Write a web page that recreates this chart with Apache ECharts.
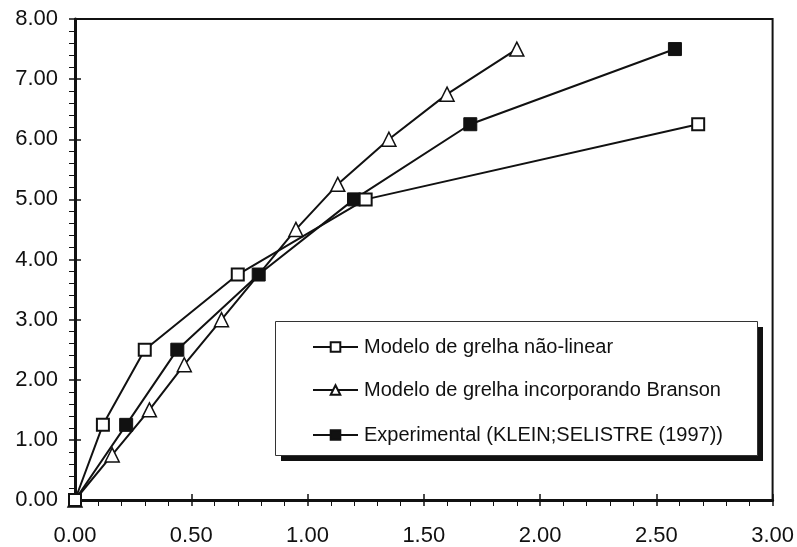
<!DOCTYPE html>
<html>
<head>
<meta charset="utf-8">
<script src="https://cdn.jsdelivr.net/npm/echarts@6/dist/echarts.min.js"></script>
<style>
  html, body { margin: 0; padding: 0; background: #fff; }
  #chart { width: 797px; height: 547px; }
</style>
</head>
<body>
<div id="chart"></div>
<script>
// Load–deflection points for the three grillage results
const seriesNames = [
  'Modelo de grelha não-linear',
  'Modelo de grelha incorporando Branson',
  'Experimental (KLEIN;SELISTRE (1997))'
];
const naoLinearX = [0, 0.12, 0.30, 0.70, 1.25, 2.68];
const naoLinearY = [0, 1.25, 2.50, 3.75, 5.00, 6.25];
const bransonX = [0, 0.16, 0.32, 0.47, 0.63, 0.95, 1.13, 1.35, 1.60, 1.90];
const bransonY = [0, 0.75, 1.50, 2.25, 3.00, 4.50, 5.25, 6.00, 6.75, 7.50];
const experimentalX = [0, 0.22, 0.44, 0.79, 1.20, 1.70, 2.58];
const experimentalY = [0, 1.25, 2.50, 3.75, 5.00, 6.25, 7.50];

const xTicks = { min: 0, max: 3, interval: 0.5 };
const yTicks = { min: 0, max: 8, interval: 1 };

const pairs = (xs, ys) => xs.map((x, i) => [x, ys[i]]);

const FONT = 'Arial, "Liberation Sans", sans-serif';
const INK = '#111';

const chart = echarts.init(document.getElementById('chart'));

const tickLabel = {
  color: INK, fontSize: 22, fontFamily: FONT,
  formatter: v => v.toFixed(2)
};

const mainX = {
  type: 'value', min: xTicks.min, max: xTicks.max, interval: xTicks.interval,
  axisLine: { show: true, onZero: false, lineStyle: { color: INK, width: 3 } },
  axisTick: { show: true, inside: false, length: 6, lineStyle: { color: INK, width: 1.5 } },
  minorTick: { show: true, splitNumber: 5, length: 6, lineStyle: { color: INK, width: 1 } },
  splitLine: { show: false },
  axisLabel: Object.assign({ margin: 25 }, tickLabel)
};
const innerX = {
  type: 'value', min: xTicks.min, max: xTicks.max, interval: xTicks.interval,
  position: 'bottom',
  axisLine: { show: false },
  axisTick: { show: true, inside: true, length: 6, lineStyle: { color: INK, width: 1.5 } },
  axisLabel: { show: false }, splitLine: { show: false }
};
const mainY = {
  type: 'value', min: yTicks.min, max: yTicks.max, interval: yTicks.interval,
  axisLine: { show: true, onZero: false, lineStyle: { color: INK, width: 3 } },
  axisTick: { show: true, inside: false, length: 6, lineStyle: { color: INK, width: 1.5 } },
  minorTick: { show: true, splitNumber: 5, length: 6, lineStyle: { color: INK, width: 1 } },
  splitLine: { show: false },
  axisLabel: Object.assign({ margin: 17 }, tickLabel)
};
const innerY = {
  type: 'value', min: yTicks.min, max: yTicks.max, interval: yTicks.interval,
  position: 'left',
  axisLine: { show: false },
  axisTick: { show: true, inside: true, length: 6, lineStyle: { color: INK, width: 1.5 } },
  axisLabel: { show: false }, splitLine: { show: false }
};

const lineStyle = { color: INK, width: 2 };

// One legend row per series, stacked inside a framed box with a drop shadow
const legendRowTops = [337, 380, 425];
const legends = seriesNames.map((name, i) => ({
  orient: 'horizontal',
  left: 312, top: legendRowTops[i],
  z: 20,
  data: [name],
  itemWidth: 45, itemHeight: 12,
  padding: 0,
  selectedMode: false,
  textStyle: { color: INK, fontSize: 20, lineHeight: 20, fontFamily: FONT, padding: [0, 0, 0, 1] }
}));

chart.setOption({
  backgroundColor: '#fff',
  animation: false,
  grid: {
    left: 75, top: 19, right: 24, bottom: 47,
    show: true, borderColor: INK, borderWidth: 2, backgroundColor: 'transparent'
  },
  xAxis: [mainX, innerX],
  yAxis: [mainY, innerY],
  legend: legends,
  graphic: [
    { type: 'rect', left: 281, top: 327, z: 10,
      shape: { width: 482, height: 134 },
      style: { fill: INK } },
    { type: 'rect', left: 275, top: 321, z: 11,
      shape: { width: 482, height: 134 },
      style: { fill: '#fff', stroke: '#333', lineWidth: 1 } }
  ],
  series: [
    {
      name: seriesNames[1], type: 'line', z: 3,
      data: pairs(bransonX, bransonY),
      symbol: 'triangle', symbolSize: 14,
      itemStyle: { color: '#fff', borderColor: INK, borderWidth: 1.5 },
      lineStyle
    },
    {
      name: seriesNames[2], type: 'line', z: 4,
      data: pairs(experimentalX, experimentalY),
      symbol: 'rect', symbolSize: 13,
      itemStyle: { color: INK, borderColor: INK, borderWidth: 1 },
      lineStyle
    },
    {
      name: seriesNames[0], type: 'line', z: 5,
      data: pairs(naoLinearX, naoLinearY),
      symbol: 'rect', symbolSize: 12,
      itemStyle: { color: '#fff', borderColor: INK, borderWidth: 2 },
      lineStyle
    }
  ]
});
</script>
</body>
</html>
